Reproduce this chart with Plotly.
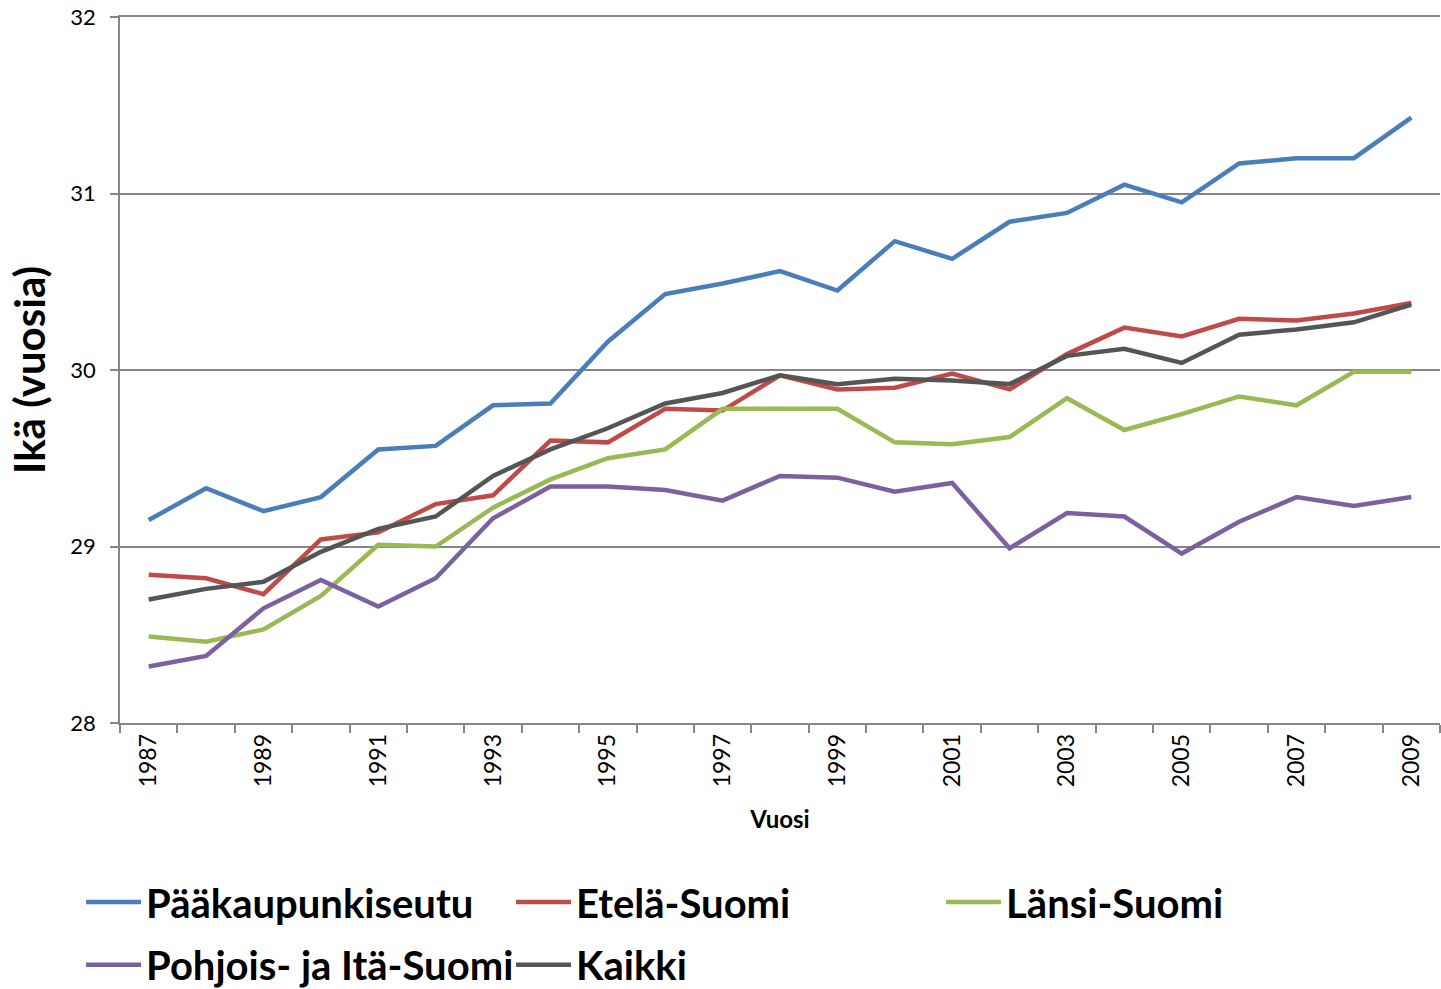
import plotly.graph_objects as go

years = [str(y) for y in range(1987, 2010)]

paakaupunkiseutu = [29.15, 29.33, 29.20, 29.28, 29.55, 29.57, 29.80, 29.81, 30.16, 30.43, 30.49, 30.56,
                    30.45, 30.73, 30.63, 30.84, 30.89, 31.05, 30.95, 31.17, 31.20, 31.20, 31.43]
etela_suomi = [28.84, 28.82, 28.73, 29.04, 29.08, 29.24, 29.29, 29.60, 29.59, 29.78, 29.77, 29.97,
               29.89, 29.90, 29.98, 29.89, 30.09, 30.24, 30.19, 30.29, 30.28, 30.32, 30.38]
lansi_suomi = [28.49, 28.46, 28.53, 28.72, 29.01, 29.00, 29.22, 29.38, 29.50, 29.55, 29.78, 29.78,
               29.78, 29.59, 29.58, 29.62, 29.84, 29.66, 29.75, 29.85, 29.80, 29.99, 29.99]
pohjois_ita_suomi = [28.32, 28.38, 28.65, 28.81, 28.66, 28.82, 29.16, 29.34, 29.34, 29.32, 29.26, 29.40,
                     29.39, 29.31, 29.36, 28.99, 29.19, 29.17, 28.96, 29.14, 29.28, 29.23, 29.28]
kaikki = [28.70, 28.76, 28.80, 28.97, 29.10, 29.17, 29.40, 29.55, 29.67, 29.81, 29.87, 29.97,
          29.92, 29.95, 29.94, 29.92, 30.08, 30.12, 30.04, 30.20, 30.23, 30.27, 30.37]

series = [
    ("Pääkaupunkiseutu", paakaupunkiseutu, "#4A7EBB", "legend"),
    ("Etelä-Suomi", etela_suomi, "#BE4B48", "legend"),
    ("Länsi-Suomi", lansi_suomi, "#98B954", "legend"),
    ("Pohjois- ja Itä-Suomi", pohjois_ita_suomi, "#7D60A0", "legend2"),
    ("Kaikki", kaikki, "#555555", "legend2"),
]

FONT = "Lato"

fig = go.Figure()
for name, vals, color, leg in series:
    fig.add_trace(go.Scatter(
        x=years, y=vals, name=name, mode="lines",
        line=dict(color=color, width=4.5),
        legend=leg,
    ))

legend_common = dict(
    orientation="h",
    xanchor="left", yanchor="middle",
    font=dict(family=FONT, size=40, color="black", weight="bold"),
    entrywidth=360, entrywidthmode="pixels",
    itemwidth=55,
    bgcolor="rgba(0,0,0,0)",
    traceorder="normal",
)

fig.update_layout(
    width=1441, height=989,
    margin=dict(l=120, r=1, t=17, b=266, autoexpand=False),
    paper_bgcolor="white", plot_bgcolor="white",
    font=dict(family=FONT, color="black"),
    showlegend=True,
    legend=dict(x=-0.0295, y=-0.2535, **legend_common),
    legend2=dict(x=-0.0295, y=-0.3425, **legend_common),
    xaxis=dict(
        type="category",
        range=[-0.5, 22.5],
        tickson="boundaries",
        ticks="outside", ticklen=8, tickcolor="#868686", tickwidth=1.5,
        ticklabelstep=2,
        tickangle=-90,
        tickfont=dict(family=FONT, size=23, color="black"),
        showgrid=False,
        showline=True, linecolor="#868686", linewidth=1.5,
        mirror=True,
        title=dict(text="Vuosi", font=dict(family=FONT, size=24, color="black", weight="bold"), standoff=25),
    ),
    yaxis=dict(
        range=[28, 32], tickvals=[28, 29, 30, 31, 32],
        ticks="outside", ticklen=8, tickcolor="#868686", tickwidth=1.5,
        ticklabelstandoff=10,
        ticklabeloverflow="allow",
        tickfont=dict(family=FONT, size=22, color="black"),
        showgrid=True, gridcolor="#868686", gridwidth=1.5,
        showline=True, linecolor="#868686", linewidth=1.5,
        zeroline=False,
        title=dict(text="Ikä (vuosia)", font=dict(family=FONT, size=42, color="black", weight="bold"), standoff=12),
    ),
)

fig.write_html("out.html", config={"displayModeBar": False},
               post_script="document.body.style.margin='0px';")
